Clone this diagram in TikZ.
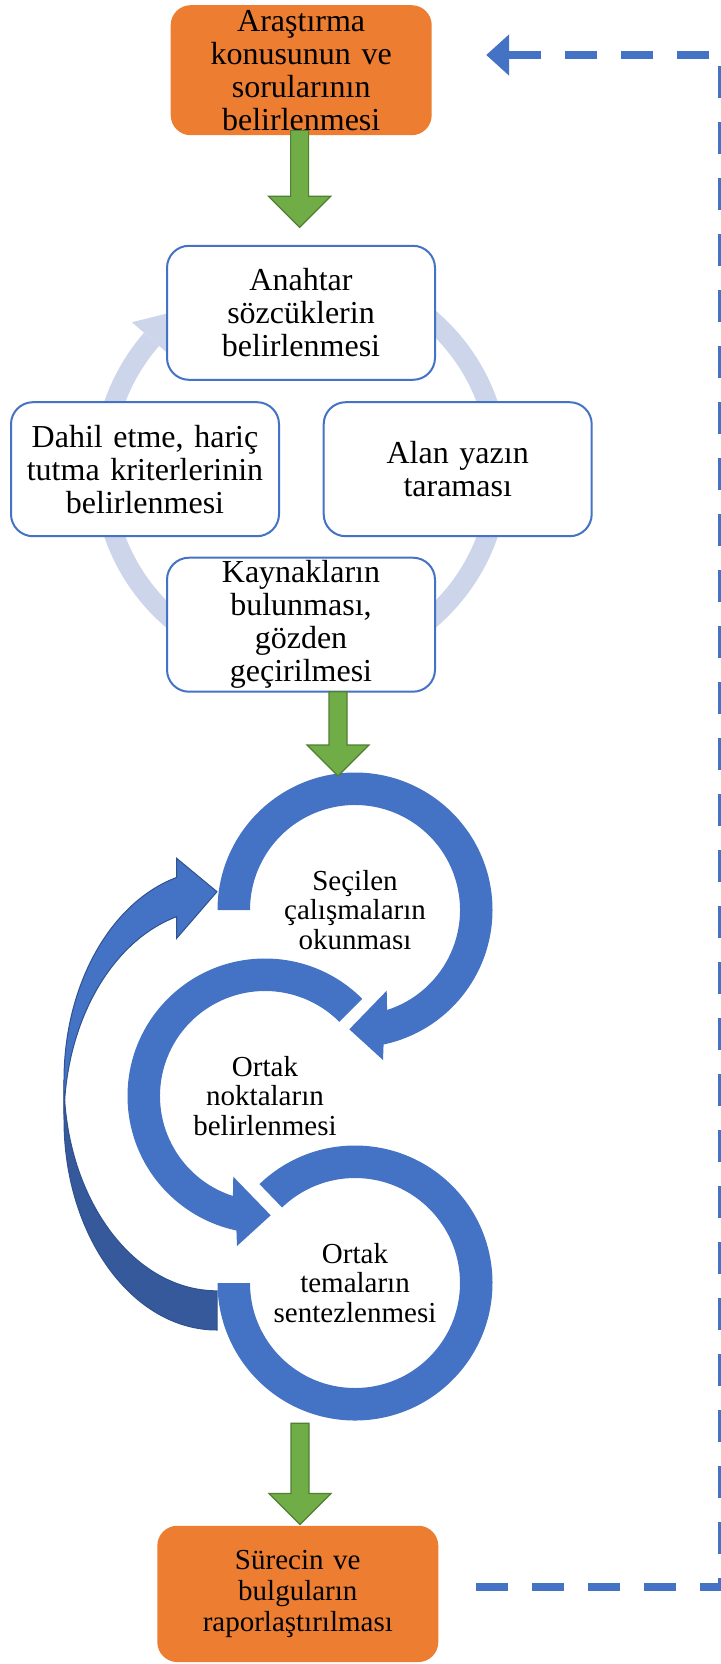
\documentclass[tikz,border=0pt]{standalone}
\usepackage{fontspec}
\setmainfont{Liberation Serif}
\usetikzlibrary{positioning,arrows.meta,calc}

\definecolor{boxorange}{HTML}{ED7D31}
\definecolor{accblue}{HTML}{4472C4}
\definecolor{ringblue}{HTML}{CDD5EA}
\definecolor{backblue}{HTML}{36599B}
\definecolor{edgeblue}{HTML}{2F528F}
\definecolor{arrgreen}{HTML}{70AD47}
\definecolor{arrline}{HTML}{507E32}

\newcommand{\stepfont}{\fontsize{32}{33}\selectfont}
\newcommand{\loopfont}{\fontsize{29}{29.5}\selectfont}
\newcommand{\reportfont}{\fontsize{29}{31}\selectfont}

\begin{document}
\begin{tikzpicture}[x=1pt, y=1pt,
    topicbox/.style={fill=boxorange, rounded corners=20pt, inner sep=0pt, align=center},
    stepbox/.style={draw=accblue, line width=2pt, fill=white, rounded corners=22pt,
        minimum width=268pt, minimum height=134pt, inner sep=0pt, text width=262pt,
        align=center, font=\stepfont},
    looptext/.style={inner sep=0pt, align=center, font=\loopfont},
    blockarrow/.style={fill=arrgreen, draw=arrline, line width=1.2pt,
        to path={let \p1=(\tikztostart), \p2=(\tikztotarget) in
            (\x1-9pt,\y1) -- (\x1-9pt,\y2+31pt) -- (\x1-31pt,\y2+31pt) -- (\x1,\y2)
            -- (\x1+31pt,\y2+31pt) -- (\x1+9pt,\y2+31pt) -- (\x1+9pt,\y1) -- cycle}},
    feedback/.style={draw=accblue, line width=8.3pt, dash pattern=on 32pt off 24pt,
        -{Triangle[length=23pt,width=40pt]}},
]
\useasboundingbox (0,0) rectangle (720,-1664);

\coordinate (cyc) at (301,-469.2);
\draw[ringblue, line width=20pt] (cyc) ++(139:198pt) arc[start angle=139, end angle=469, radius=198pt];
\fill[ringblue] ($(cyc)+(139:224pt)$) -- ($(cyc)+(126:198pt)$) -- ($(cyc)+(139:172pt)$) -- cycle;

\node[topicbox, minimum width=261pt, minimum height=130pt, text width=255pt, font=\stepfont]
    (topic) at (301.2,-70.2) {Araştırma\\konusunun ve\\sorularının\\belirlenmesi};
\node[stepbox, above=88.4pt of cyc] (keywords) {Anahtar\\sözcüklerin\\belirlenmesi};
\node[stepbox, right=21.7pt of cyc] (survey) {Alan yazın\\taraması};
\node[stepbox, below=87.5pt of cyc] (sources) {Kaynakların\\bulunması,\\gözden\\geçirilmesi};
\node[stepbox, left=21pt of cyc] (criteria) {Dahil etme, hariç\\tutma kriterlerinin\\belirlenmesi};

\coordinate (c1) at (355,-910);
\coordinate (c2) at (265,-1096);
\coordinate (c3) at (355,-1283);

\path[fill=backblue, draw=edgeblue, line width=1pt] (217,-1330)
    arc[start angle=270, end angle=180, x radius=153pt, y radius=210.4pt] -- (64,-1080.4)
    arc[start angle=180, end angle=270, x radius=153pt, y radius=210.4pt] -- cycle;
\path[fill=accblue, draw=edgeblue, line width=1pt] (64,-1119.6)
    arc[start angle=180, end angle=105.27, x radius=153pt, y radius=210.4pt]
    -- (176.7,-938.3) -- (217,-891.7) -- (176.7,-858.3) -- (176.7,-877.4)
    arc[start angle=105.27, end angle=180, x radius=153pt, y radius=210.4pt] -- cycle;

\fill[accblue] ($(c1)+(180:137.5pt)$) arc[start angle=180, end angle=-78, radius=137.5pt]
    -- ($(c1)+(28,-150)$) -- ($(c1)+(-5.7,-119.3)$) -- ($(c1)+(31.7,-80.7)$)
    -- ($(c1)+(-72.2:105pt)$) arc[start angle=-72.2, end angle=180, radius=105pt] -- cycle;
\fill[accblue] ($(c2)+(45:137.5pt)$) arc[start angle=45, end angle=258, radius=137.5pt]
    -- ($(c2)+(-28,-150)$) -- ($(c2)+(5.7,-119.3)$) -- ($(c2)+(-31.7,-80.7)$)
    -- ($(c2)+(252.2:105pt)$) arc[start angle=252.2, end angle=45, radius=105pt] -- cycle;
\fill[accblue] ($(c3)+(134:137.5pt)$) arc[start angle=134, end angle=-180, radius=137.5pt]
    -- ($(c3)+(180:105pt)$) arc[start angle=-180, end angle=134, radius=105pt] -- cycle;

\node[looptext] (secilen) at (c1) {Seçilen\\çalışmaların\\okunması};
\node[looptext] (ortak) at (c2) {Ortak\\noktaların\\belirlenmesi};
\node[looptext] (sentez) at (c3) {Ortak\\temaların\\sentezlenmesi};

\node[topicbox, minimum width=281pt, minimum height=136.3pt, text width=275pt, font=\reportfont]
    (report) at (297.8,-1593.9) {Sürecin ve\\bulguların\\raporlaştırılması};

\coordinate (loopin) at ($(secilen)+(-17,134)$);
\path[blockarrow] ([xshift=-1.6pt,yshift=5pt]topic.south) to ([yshift=17.5pt]keywords.north);
\path[blockarrow] ([xshift=37pt,yshift=1pt]sources.south) to (loopin);
\path[blockarrow] ($(sentez)+(-55,-140.3)$) to ([yshift=1pt]report.north);

\coordinate (fb) at ([xshift=37pt,yshift=6.6pt]report.east);
\coordinate (ft) at ([xshift=54.3pt,yshift=15.2pt]topic.east);
\coordinate (fc) at (722,-55);
\draw[feedback] (fb) -| (fc) -- (ft);
\end{tikzpicture}
\end{document}
